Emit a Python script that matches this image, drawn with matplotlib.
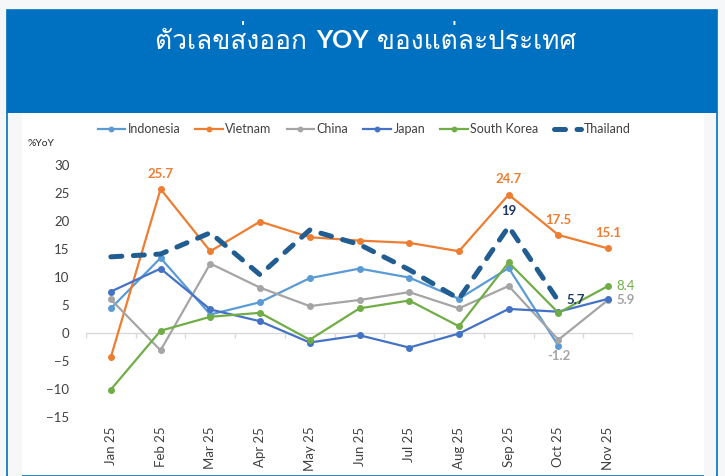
import numpy as np
import matplotlib.pyplot as plt
from matplotlib import font_manager
from matplotlib.patches import Rectangle
from matplotlib.text import Annotation
from fontTools.ttLib import TTFont

# data (%YoY)
months = ['Jan 25', 'Feb 25', 'Mar 25', 'Apr 25', 'May 25', 'Jun 25',
          'Jul 25', 'Aug 25', 'Sep 25', 'Oct 25', 'Nov 25']
indonesia = [4.4, 13.4, 3.3, 5.5, 9.8, 11.5, 9.9, 6.1, 11.6, -2.3, np.nan]
vietnam = [-4.3, 25.7, 14.6, 19.9, 17.1, 16.5, 16.1, 14.6, 24.7, 17.5, 15.1]
china = [6.0, -3.1, 12.4, 8.1, 4.8, 5.9, 7.3, 4.4, 8.4, -1.2, 5.9]
japan = [7.4, 11.5, 4.2, 2.1, -1.7, -0.4, -2.6, -0.1, 4.3, 3.8, 6.1]
south_korea = [-10.1, 0.4, 2.9, 3.6, -1.2, 4.4, 5.8, 1.2, 12.6, 3.6, 8.4]
thailand = [13.6, 14.1, 17.9, 10.4, 18.4, 15.8, 11.3, 6.1, 19.0, 5.7, np.nan]

title_parts = ['ตัวเลขส่งออก ', 'YOY', ' ของแต่ละประเทศ']


def find_font(char):
    # look for an installed font that has the given character
    for f in font_manager.fontManager.ttflist:
        try:
            cmap = TTFont(f.fname, fontNumber=0, lazy=True).getBestCmap()
        except Exception:
            continue
        if cmap and ord(char) in cmap:
            return f.name
    return 'DejaVu Sans'


thai_font = find_font('ต')
plt.rcParams['font.family'] = ['Lato', 'DejaVu Sans']

W, H = 725, 476
bg = '#f6f7f9'
blue = '#0070c0'
fig = plt.figure(figsize=(W / 100, H / 100), dpi=100)
fig.patch.set_facecolor(bg)

# white card with a blue header, kept behind the axes
fig.patches.append(Rectangle((7 / W, 0), 710 / W, 1 - 10 / H, transform=fig.transFigure,
                             facecolor='white', edgecolor=blue, lw=1.2, zorder=-3))
fig.patches.append(Rectangle((7 / W, 1 - 113 / H), 710 / W, 103 / H, transform=fig.transFigure,
                             facecolor=blue, edgecolor='none', zorder=-2))
fig.patches.append(Rectangle((8 / W, 0), 14 / W, 1 - 113 / H, transform=fig.transFigure,
                             facecolor=bg, edgecolor='none', zorder=-2))
fig.patches.append(Rectangle((704 / W, 0), 12 / W, 1 - 113 / H, transform=fig.transFigure,
                             facecolor=bg, edgecolor='none', zorder=-2))

# title, bold "YOY" in the middle
t1 = fig.text(155 / W, 1 - 40 / H, title_parts[0], color='white', fontsize=19,
              family=[thai_font, 'DejaVu Sans'], va='center', ha='left')
a2 = fig.add_artist(Annotation(
    title_parts[1], xy=(1, 0.5), xycoords=t1, va='center', ha='left', color='white',
    fontsize=18, fontweight='bold', family=['Lato', 'DejaVu Sans']))
a3 = fig.add_artist(Annotation(
    title_parts[2], xy=(1, 0.5), xycoords=a2, va='center', ha='left', color='white',
    fontsize=19, family=[thai_font, 'DejaVu Sans']))

ax = fig.add_axes([86 / W, 1 - 417 / H, (633 - 86) / W, (417 - 165) / H])
ax.set_facecolor('none')

x = np.arange(len(months))
series = [
    ('Indonesia', indonesia, '#5b9bd5'),
    ('Vietnam', vietnam, '#ed7d31'),
    ('China', china, '#a5a5a5'),
    ('Japan', japan, '#4472c4'),
    ('South Korea', south_korea, '#70ad47'),
]
for name, vals, col in series:
    ax.plot(x, vals, color=col, lw=1.6, marker='o', ms=4, label=name, zorder=3)

ax.plot(x, thailand, color='#215d91', lw=3.6, dashes=(2.2, 2.3), dash_capstyle='round',
        label='Thailand', zorder=4)

# zero line with small category ticks
ax.axhline(0, color='#d9d9d9', lw=1, zorder=1)
ax.vlines(np.arange(len(months) + 1) - 0.5, -0.9, 0, color='#d9d9d9', lw=1, zorder=1)

ax.set_xlim(-0.5, len(months) - 0.5)
ax.set_ylim(-15, 30)
ax.set_yticks(np.arange(-15, 31, 5))
ax.set_xticks(x)
ax.set_xticklabels(months, rotation=90)
ax.tick_params(axis='both', length=0, labelsize=9.5, colors='#404040')
ax.tick_params(axis='x', pad=7)
ax.tick_params(axis='y', pad=12)
for s in ax.spines.values():
    s.set_visible(False)

fig.text(28 / W, 1 - 143 / H, '%YoY', fontsize=7.5, color='#262626', va='center')

# data labels
vn_col = '#ed7d31'
for i in [1, 8, 9, 10]:
    ax.annotate(f'{vietnam[i]:.1f}', (x[i], vietnam[i]), xytext=(0, 11), textcoords='offset points',
                ha='center', va='center', color=vn_col, fontsize=9.5, fontweight='bold')
ax.annotate(f'{thailand[8]:.0f}', (x[8], thailand[8]), xytext=(0, 11), textcoords='offset points',
            ha='center', va='center', color='#1f3864', fontsize=9.5, fontweight='bold')
ax.annotate(f'{thailand[9]:.1f}', (x[9], thailand[9]), xytext=(6, 1), textcoords='offset points',
            ha='left', va='center', color='#1f3864', fontsize=9.5, fontweight='bold')
ax.annotate(f'{south_korea[10]:.1f}', (x[10], south_korea[10]), xytext=(6, 0),
            textcoords='offset points', ha='left', va='center', color='#70ad47', fontsize=9.5)
ax.annotate(f'{china[10]:.1f}', (x[10], china[10]), xytext=(6, 0), textcoords='offset points',
            ha='left', va='center', color='#a5a5a5', fontsize=9.5, fontweight='bold')
ax.annotate(f'{china[9]:.1f}', (x[9], china[9]), xytext=(0, -12), textcoords='offset points',
            ha='center', va='center', color='#a5a5a5', fontsize=9.5, fontweight='bold')

fig.legend(loc='center', bbox_to_anchor=(364 / W, 1 - 129 / H), ncol=6, frameon=False,
           fontsize=9, handlelength=2.2, handletextpad=0.2, columnspacing=1.2,
           labelcolor='#404040', markerscale=0.8)

fig.savefig('out.png', dpi=100, facecolor=fig.get_facecolor())
